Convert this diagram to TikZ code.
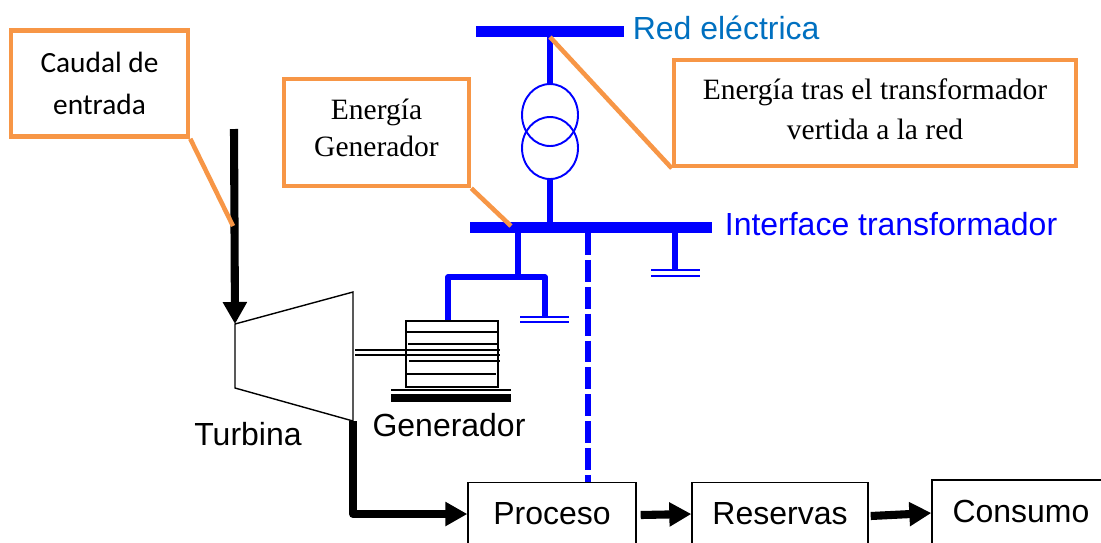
\documentclass[tikz,border=0pt]{standalone}
\usepackage{fontspec}
\setmainfont{Liberation Sans}
\newfontfamily\calloutA{Carlito}
\newfontfamily\calloutB{Liberation Serif}
\usepackage[dvipsnames,svgnames,x11names]{xcolor}
\usetikzlibrary{shapes.geometric, arrows.meta, calc}
\definecolor{busBlue}{RGB}{0,0,255}
\definecolor{redBlue}{RGB}{0,112,192}
\definecolor{noteOrange}{RGB}{247,150,70}
\tikzset{
  note/.style={rectangle, draw=noteOrange, fill=white, line width=2.6pt,
               inner sep=0pt, align=center},
  leader/.style={draw=noteOrange, line width=2.6pt},
  busbar/.style={rectangle, fill=busBlue, inner sep=0pt, minimum height=0.22cm},
  busline/.style={draw=busBlue, line width=3pt},
  trafo/.style={ellipse, draw=busBlue, line width=1.1pt, inner sep=0pt,
                minimum width=1.12cm, minimum height=1.24cm},
  earth/.style={draw=busBlue, line width=1.6pt},
  flow/.style={draw=black, line width=4.6pt, -{Triangle[length=0.44cm,width=0.46cm]}},
  stepbox/.style={rectangle, draw=black, line width=0.8pt, fill=white, inner sep=0pt,
                  font=\fontsize{18.2}{20}\selectfont, minimum height=1.26cm},
  winding/.style={draw=black, line width=1.1pt},
  label/.style={inner sep=0pt, font=\fontsize{18.2}{20}\selectfont},
}
\begin{document}
\begin{tikzpicture}[x=0.02cm, y=-0.02cm]
    \useasboundingbox (0,0) rectangle (1101,542);

    %% bus bars
    \node[busbar, minimum width=2.96cm] (busRed) at (550,31.5) {};
    \node[busbar, minimum width=4.84cm] (busIface) at (591,227.5) {};
    \node[label, text=redBlue, anchor=west] (lblRed) at (632.5,27.5) {Red eléctrica};
    \node[label, text=busBlue, anchor=west] (lblIface) at (724.5,224.5) {Interface transformador};

    %% transformer
    \node[trafo] (trafoTop) at (550,115) {};
    \node[trafo] (trafoBot) at (550,148) {};
    \draw[busline] (busRed.south) -- (trafoTop.north);
    \draw[busline] (trafoBot.south) -- (trafoBot.south |- busIface.north);

    %% branches under the interface bus
    \coordinate (tapGen) at (518,233);
    \coordinate (teeGen) at (518,277);
    \coordinate (tapLoad) at (675,233);
    \coordinate (earthA) at (545,317);
    \coordinate (earthB) at (675,270);
    \coordinate (tapProc) at (588,233);

    %% generator
    \node[rectangle, draw=black, line width=1pt, minimum width=1.84cm,
          minimum height=1.32cm, inner sep=0pt] (gen) at (452,354) {};
    \draw[busline] (tapGen) -- (teeGen);
    \draw[busline, line join=round] (gen.north -| 448,0) |- (teeGen) -| (earthA);
    \draw[busline] (tapLoad) -- (earthB);
    \draw[earth] ($(earthA)+(-25,0)$) -- ($(earthA)+(24,0)$);
    \draw[earth] ($(earthA)+(-25,5)$) -- ($(earthA)+(24,5)$);
    \draw[earth] ($(earthB)+(-24,0)$) -- ($(earthB)+(25,0)$);
    \draw[earth] ($(earthB)+(-24,6)$) -- ($(earthB)+(25,6)$);

    \draw[winding] (406,332) -- (497,332);
    \draw[winding] (408,344) -- (499,344);
    \draw[winding] (355,350) -- (500,350);
    \draw[winding] (355,355) -- (500,355);
    \draw[winding] (409,361) -- (500,361);
    \draw[winding] (406,374) -- (496,374);
    \draw[draw=black, line width=1.4pt] (391,390) -- (511,390);
    \draw[draw=black, line width=4pt] (391,398) -- (511,398);
    \node[label] (lblGen) at (449,425) {Generador};

    %% turbine
    \coordinate (turbA) at (235,324);
    \coordinate (turbB) at (353,292);
    \coordinate (turbC) at (353,421);
    \coordinate (turbD) at (235,388);
    \draw[black, line width=0.8pt] (turbA) -- (turbB) -- (turbC) -- (turbD) -- cycle;
    \node[label] (lblTurb) at (248,434) {Turbina};
    \coordinate (inflow) at (234,129);

    %% process chain
    \node[stepbox, minimum width=3.36cm] (proc) at (552,514) {\raisebox{1pt}{Proceso}};
    \node[stepbox, minimum width=3.52cm] (res) at (780,514) {\raisebox{1pt}{Reservas}};
    \node[stepbox, minimum width=3.44cm, minimum height=1.4cm] (cons) at (1018,515)
          {\hspace*{3.4pt}\raisebox{4.5pt}{Consumo}};
    \draw[flow] (inflow) -- (turbA);
    \draw[flow, line join=round] (turbC) |- (proc.west);
    \draw[flow] ($(proc.east)+(4,1)$) -- (res.west);
    \draw[flow] ($(res.east)+(2,2)$) -- ($(cons.west)+(0,-2)$);
    \draw[draw=busBlue, line width=3.2pt, dash pattern=on 12.5pt off 2.8pt]
          (tapProc) -- (tapProc |- proc.north);

    %% callouts
    \node[note, minimum width=3.54cm, minimum height=2.12cm,
          font=\calloutA\fontsize{16.7}{23.5}\selectfont] (noteFlow) at (99.5,83.5)
          {Caudal de\\entrada};
    \node[note, minimum width=3.70cm, minimum height=2.14cm, text depth=5pt,
          font=\calloutB\fontsize{16.8}{21}\selectfont] (noteGen) at (376.5,132.5)
          {Energía\\Generador};
    \node[note, minimum width=8.04cm, minimum height=2.12cm, text depth=4.6pt,
          font=\calloutB\fontsize{16.8}{23}\selectfont] (noteGrid) at (875,113)
          {Energía tras el transformador\\vertida a la red};
    \coordinate (pinFlow) at (233,226);
    \coordinate (pinGen) at (511,226);
    \coordinate (pinGrid) at (550,37);
    \draw[leader] (noteFlow.south east) -- (pinFlow);
    \draw[leader] (noteGen.south east) -- (pinGen);
    \draw[leader] (noteGrid.south west) -- (pinGrid);
  \end{tikzpicture}
\end{document}
